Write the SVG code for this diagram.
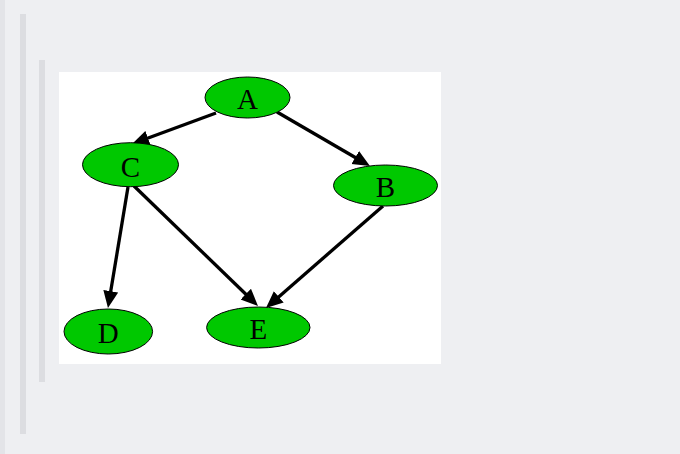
<svg xmlns="http://www.w3.org/2000/svg" width="680" height="454" viewBox="0 0 680 454">
<defs>
<style>
.node ellipse{fill:#00c800;stroke:#000;stroke-width:1}
.node text{font-family:"Liberation Serif","Times New Roman",serif;font-size:29px;fill:#000;text-anchor:middle}
.edge{stroke:#000;stroke-width:3.3;fill:none;marker-end:url(#arr)}
</style>
<marker id="arr" markerUnits="userSpaceOnUse" markerWidth="18" markerHeight="16" refX="7" refY="7.5" orient="auto">
<path d="M0,0 L17,7.5 L0,15 z" fill="#000"/>
</marker>
</defs>
<rect width="680" height="454" fill="#eeeff2"/>
<rect x="0" y="0" width="5" height="454" fill="#e3e4e8"/>
<rect x="20" y="14" width="6" height="420" fill="#dcdde1"/>
<rect x="39" y="60" width="6" height="322" fill="#dcdde1"/>
<rect x="59" y="72" width="382" height="292" fill="#ffffff"/>
<g id="edges">
<line class="edge" x1="216" y1="113" x2="141.4" y2="140.5"/>
<line class="edge" x1="277" y1="112" x2="361.3" y2="161"/>
<line class="edge" x1="128" y1="187" x2="109.6" y2="298.1"/>
<line class="edge" x1="134" y1="186" x2="250.8" y2="299"/>
<line class="edge" x1="383" y1="206" x2="273.5" y2="301.4"/>
</g>
<g id="A" class="node"><ellipse cx="247.5" cy="97.5" rx="42.5" ry="20.5"/><text x="247.5" y="109">A</text></g>
<g id="C" class="node"><ellipse cx="130.5" cy="164.7" rx="48" ry="22"/><text x="130.5" y="176.5">C</text></g>
<g id="B" class="node"><ellipse cx="385.5" cy="185.5" rx="52" ry="20.5"/><text x="385.5" y="196.5">B</text></g>
<g id="D" class="node"><ellipse cx="108.3" cy="331.5" rx="44.3" ry="22.5"/><text x="108.3" y="342.5">D</text></g>
<g id="E" class="node"><ellipse cx="258.3" cy="327.5" rx="51.7" ry="20.5"/><text x="258.3" y="339">E</text></g>
</svg>
